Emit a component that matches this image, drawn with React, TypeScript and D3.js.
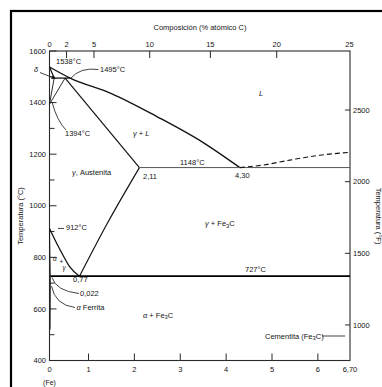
import React from 'react';
import * as d3 from 'd3';

const W = 382;
const H = 387;

// Phase boundaries of the Fe–Fe3C system, as [wt% C, °C]
const liquidus = [[0, 1538], [0.53, 1495], [1.5, 1435], [2.5, 1345], [3.5, 1245], [4.3, 1148]];
const deltaSolidus = [[0, 1538], [0.12, 1495]];
const deltaSolvus = [[0.12, 1495], [0, 1394]];
const gammaDelta = [[0, 1394], [0.4, 1495]];
const peritectic = [[0.12, 1495], [0.53, 1495]];
const gammaSolidus = [[0.4, 1495], [2.11, 1148]];
const a3Line = [[0, 912], [0.2, 850], [0.34, 810], [0.51, 765], [0.77, 727]];
const alphaBoundary = [[0, 912], [0.022, 727]];
const alphaSolvus = [[0.022, 727], [0.02, 620], [0.015, 520]];
const acmLine = [[0.77, 727], [1.42, 935], [2.11, 1148]];
const eutectic = [[2.11, 1148], [6.7, 1148]];
const eutectoid = [[0.022, 727], [6.7, 727]];
const cementiteLiquidus = [[4.3, 1148], [4.81, 1158], [5.39, 1177], [6.04, 1196], [6.7, 1207]];

// Axis ticks
const tempTicksC = [400, 600, 800, 1000, 1200, 1400, 1600];
const tempMinorC = [500, 700, 900, 1100, 1300, 1500];
const tempTicksF = [1000, 1500, 2000, 2500];
const wtTicks = [1, 2, 3, 4, 5, 6];
const wtLabels = ['0', '1', '2', '3', '4', '5', '6', '6,70'];
const wtLabelPos = [0, 1, 2, 3, 4, 5, 6, 6.7];
const atTicks = [0, 2, 5, 10, 15, 20, 25];

const atToWt = (a: number) => (100 * a * 12.011) / (a * 12.011 + (100 - a) * 55.845);
const fToC = (f: number) => ((f - 32) * 5) / 9;

const FONT = 'Liberation Sans, Arial, sans-serif';
const INK = '#141414';

export default function App() {
  const x = d3.scaleLinear().domain([0, 1, 6.7]).range([49.5, 88.5, 350]);
  const y = d3.scaleLinear().domain([400, 1600]).range([360.5, 51]);
  const straight = d3.line<number[]>().x((d) => x(d[0])).y((d) => y(d[1]));
  const smooth = d3
    .line<number[]>()
    .x((d) => x(d[0]))
    .y((d) => y(d[1]))
    .curve(d3.curveMonotoneX);

  const left = x(0);
  const right = x(6.7);
  const top = y(1600);
  const bottom = y(400);

  const boundary = (d: number[][], curved = false, w = 1.2) => (
    <path d={(curved ? smooth : straight)(d as any) || ''} fill="none" stroke={INK} strokeWidth={w} />
  );

  const fe3c = (
    <>
      Fe<tspan dy={1.5} fontSize={5.8}>3</tspan>
      <tspan dy={-1.5}>C</tspan>
    </>
  );

  return (
    <svg
      width={W}
      height={H}
      viewBox={`0 0 ${W} ${H}`}
      style={{ position: 'absolute', left: 0, top: 0, background: '#fff' }}
      fontFamily={FONT}
    >
      <defs>
        <marker id="arrow" viewBox="0 0 6 6" refX="5" refY="3" markerWidth="5" markerHeight="5" orient="auto">
          <path d="M0,0 L6,3 L0,6 z" fill={INK} />
        </marker>
      </defs>
      <rect x={0} y={0} width={W} height={H} fill="#fff" />
      <rect x={11} y={11} width={420} height={420} fill="none" stroke="#000" strokeWidth={2.2} />

      {/* axes frame */}
      <rect x={left} y={top} width={right - left} height={bottom - top} fill="none" stroke="#2a2a2a" strokeWidth={1.1} />

      <g fill={INK} style={{ fill: INK }}>
        {/* left axis (°C) */}
        {tempTicksC.map((t) => (
          <g key={'c' + t}>
            <line x1={left} x2={left + 7} y1={y(t)} y2={y(t)} stroke="#2a2a2a" strokeWidth={1} />
            <text x={left - 3.5} y={y(t) + 2.7} fontSize={7.5} textAnchor="end">{t}</text>
          </g>
        ))}
        {tempMinorC.map((t) => (
          <line key={'m' + t} x1={left} x2={left + 5} y1={y(t)} y2={y(t)} stroke="#2a2a2a" strokeWidth={1} />
        ))}
        <text transform={`translate(23,216) rotate(-90)`} fontSize={7.5} textAnchor="middle">Temperatura (°C)</text>

        {/* right axis (°F) */}
        {tempTicksF.map((f) => (
          <g key={'f' + f}>
            <line x1={right - 5} x2={right} y1={y(fToC(f))} y2={y(fToC(f))} stroke="#2a2a2a" strokeWidth={1} />
            <text x={right + 3} y={y(fToC(f)) + 2.7} fontSize={7.5}>{f}</text>
          </g>
        ))}
        <text transform={`translate(376,216) rotate(90)`} fontSize={7.5} textAnchor="middle">Temperatura (°F)</text>

        {/* bottom axis (wt% C) */}
        {wtTicks.map((w) => (
          <line key={'w' + w} x1={x(w)} x2={x(w)} y1={bottom} y2={bottom - 7} stroke="#2a2a2a" strokeWidth={1} />
        ))}
        {wtLabels.map((l, i) => (
          <text key={'wl' + l} x={x(wtLabelPos[i])} y={bottom + 11} fontSize={7.5} textAnchor="middle">{l}</text>
        ))}
        <text x={left} y={385} fontSize={7} textAnchor="middle">(Fe)</text>

        {/* top axis (at% C) */}
        {atTicks.map((a) => (
          <g key={'a' + a}>
            {a > 0 && a < 25 && (
              <line x1={x(atToWt(a))} x2={x(atToWt(a))} y1={top} y2={top + 7} stroke="#2a2a2a" strokeWidth={1} />
            )}
            <text x={x(atToWt(a))} y={top - 4.5} fontSize={7.5} textAnchor="middle">{a}</text>
          </g>
        ))}
        <text x={200} y={29.5} fontSize={7.5} textAnchor="middle">Composición (% atómico C)</text>
      </g>

      {/* phase boundaries */}
      {boundary(deltaSolidus)}
      {boundary(deltaSolvus, false, 0.9)}
      {boundary(gammaDelta, false, 0.9)}
      {boundary(peritectic, false, 1.3)}
      {boundary(liquidus, true, 1.4)}
      {boundary(gammaSolidus, false, 1.2)}
      {boundary(acmLine, true, 1.2)}
      {boundary(a3Line, true, 1.3)}
      {boundary(alphaBoundary, false, 0.8)}
      {boundary(alphaSolvus, false, 0.9)}
      <path d={straight(eutectic as any) || ''} fill="none" stroke="#555" strokeWidth={1} />
      <path d={straight(eutectoid as any) || ''} fill="none" stroke="#000" strokeWidth={1.6} />
      <path
        d={smooth(cementiteLiquidus as any) || ''}
        fill="none"
        stroke={INK}
        strokeWidth={1.1}
        strokeDasharray="5,3"
      />

      {/* leader lines */}
      <path d="M98.5,69.5 Q80,67 70.5,78.5" fill="none" stroke={INK} strokeWidth={0.8} />
      <path d="M52,102 Q57,121 66,130" fill="none" stroke={INK} strokeWidth={0.8} />
      <line x1={40} y1={72.5} x2={55} y2={78.5} stroke={INK} strokeWidth={0.8} markerEnd="url(#arrow)" />
      <line x1={58} x2={64} y1={y(912)} y2={y(912)} stroke={INK} strokeWidth={0.8} />
      <path d="M52,277.5 Q56,291 79,293.5" fill="none" stroke={INK} strokeWidth={0.8} />
      <path d="M51.5,286 Q55,305 75,307.5" fill="none" stroke={INK} strokeWidth={0.8} />
      <line x1={322} x2={345} y1={336} y2={336} stroke={INK} strokeWidth={0.8} />

      {/* annotations */}
      <g fontSize={7.5} fill={INK} style={{ fill: INK }}>
        <text x={56} y={64}>1538°C</text>
        <text x={100} y={72}>1495°C</text>
        <text x={34} y={72} fontStyle="italic">δ</text>
        <text x={65} y={136}>1394°C</text>
        <text x={133} y={135.5}>
          <tspan fontStyle="italic">γ</tspan> + <tspan fontStyle="italic">L</tspan>
        </text>
        <text x={259} y={96} fontStyle="italic">L</text>
        <text x={72} y={175}>
          <tspan fontStyle="italic">γ</tspan>, Austenita
        </text>
        <text x={180} y={165}>1148°C</text>
        <text x={143} y={178.5}>2,11</text>
        <text x={235} y={177.5}>4,30</text>
        <text x={205} y={226}>
          <tspan fontStyle="italic">γ</tspan> + {fe3c}
        </text>
        <text x={66} y={230}>912°C</text>
        <text x={245} y={271.5}>727°C</text>
        <text x={73} y={282}>0,77</text>
        <text x={80} y={296}>0,022</text>
        <text x={76.5} y={310}>
          <tspan fontStyle="italic">α</tspan>  Ferrita
        </text>
        <text x={143} y={317.5}>
          <tspan fontStyle="italic">α</tspan> + {fe3c}
        </text>
        <text x={265} y={338.5}>Cementita ({fe3c})</text>
      </g>
      <g fontSize={6.5} fontStyle="italic" fill={INK} style={{ fill: INK }}>
        <text x={53} y={261}>α</text>
        <text x={59.5} y={264} fontStyle="normal">+</text>
        <text x={62.5} y={270}>γ</text>
      </g>
    </svg>
  );
}
